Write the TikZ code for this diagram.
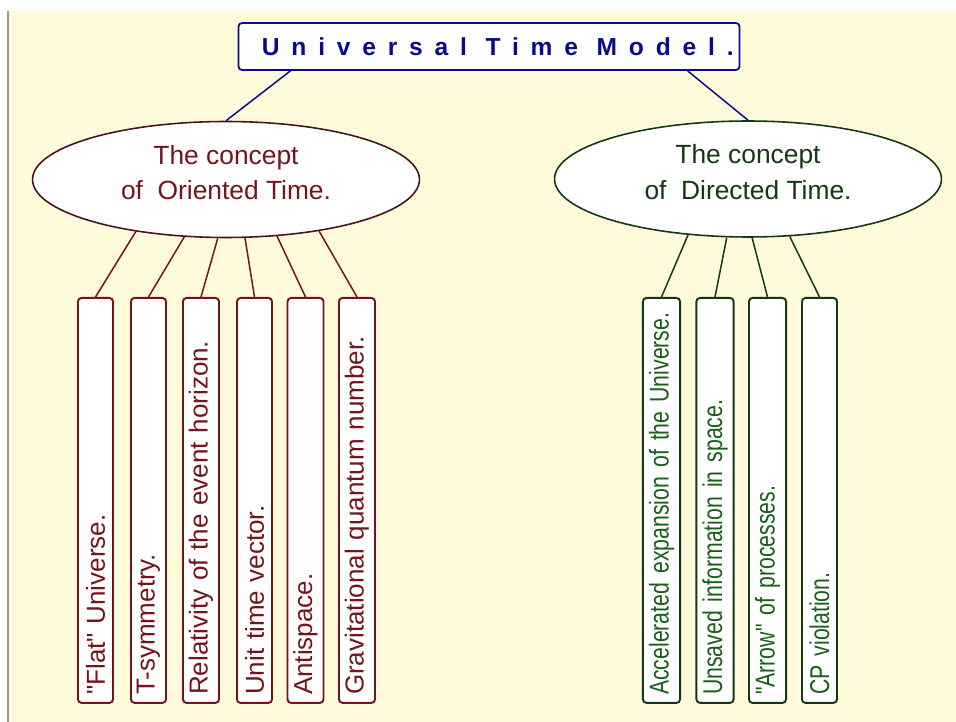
\documentclass[tikz,border=0pt]{standalone}
\usepackage{fontspec}
\setmainfont{Liberation Sans}[Ligatures=TeXOff]
\usetikzlibrary{shapes.geometric}
\definecolor{cream}{RGB}{255,250,218}
\definecolor{navy}{RGB}{10,10,140}
\definecolor{wine}{RGB}{115,20,30}
\definecolor{winedark}{RGB}{70,20,30}
\definecolor{leaf}{RGB}{25,95,25}
\definecolor{leafdark}{RGB}{20,55,20}
\begin{document}
\begin{tikzpicture}[x=0.02cm,y=-0.02cm]
    \tikzstyle{ell}=[ellipse, draw, fill=white, line width=0.9pt, inner sep=0pt, minimum width=7.74cm, minimum height=2.32cm, align=center, font=\fontsize{15}{20}\selectfont]
    \tikzstyle{box}=[draw, fill=white, rounded corners=2pt, line width=1.1pt, rotate=90, anchor=east, minimum height=0.7cm, inner xsep=0.16cm, text width=7.78cm, align=left]
    \tikzstyle{link}=[line width=0.85pt]
    % page
    \path[use as bounding box, fill=white] (0,0) rectangle (956,722);
    \fill[cream] (9,11) rectangle (956,722);
    \draw[gray!80, line width=0.8pt] (8,11) -- (8,722);
    % title
    \node[draw=navy, fill=white, rounded corners=2pt, line width=1pt, minimum width=9.96cm, minimum height=0.94cm, text=navy, font=\fontsize{14}{16}\bfseries] (t) at (489,46.5) {\hspace*{0.35cm}\addfontfeature{LetterSpace=48}Universal Time Model.};
    % the two concepts
    \node[ell, draw=winedark, text=wine] (ot) at (226,179.5) {The concept\\of~\ Oriented Time.\rule[-8pt]{0pt}{8pt}};
    \node[ell, draw=leafdark, text=leafdark] (dt) at (748,179) {The concept\\of~\ Directed Time.\rule[-8pt]{0pt}{8pt}};
    \draw[link, navy] (t.187) -- (ot.north);
    \draw[link, navy] (t.353) -- (dt.north);
    % oriented time
    \begin{scope}[every node/.append style={draw=wine, text=wine, font=\fontsize{14.8}{16}\selectfont}]
      \node[box] (o1) at (95.5,297) {"Flat" Universe.};
      \node[box] (o2) at (148.5,297) {T-symmetry.};
      \node[box] (o3) at (201,297) {Relativity of the event horizon.};
      \node[box] (o4) at (254.5,297) {Unit time vector.};
      \node[box] (o5) at (305.5,297) {Antispace.};
      \node[box] (o6) at (357,297) {Gravitational quantum number.};
    \end{scope}
    \draw[link, wine] (ot.210) -- (o1.east);
    \draw[link, wine] (ot.234) -- (o2.east);
    \draw[link, wine] (ot.262.5) -- (o3.east);
    \draw[link, wine] (ot.288) -- (o4.east);
    \draw[link, wine] (ot.312) -- (o5.east);
    \draw[link, wine] (ot.331.7) -- (o6.east);
    % directed time
    \begin{scope}[every node/.append style={draw=leafdark, text=leaf, font=\fontsize{15.5}{17}\selectfont\addfontfeature{FakeStretch=0.78}}]
      \node[box] (d1) at (661.5,297) {Accelerated expansion of the Universe.};
      \node[box] (d2) at (715,297) {Unsaved information in space.};
      \node[box] (d3) at (767.5,297) {"Arrow" of processes.};
      \node[box] (d4) at (819.5,297) {CP violation.};
    \end{scope}
    \draw[link, leafdark] (dt.223.5) -- (d1.east);
    \draw[link, leafdark] (dt.250) -- (d2.east);
    \draw[link, leafdark] (dt.274) -- (d3.east);
    \draw[link, leafdark] (dt.306) -- (d4.east);
\end{tikzpicture}
\end{document}
